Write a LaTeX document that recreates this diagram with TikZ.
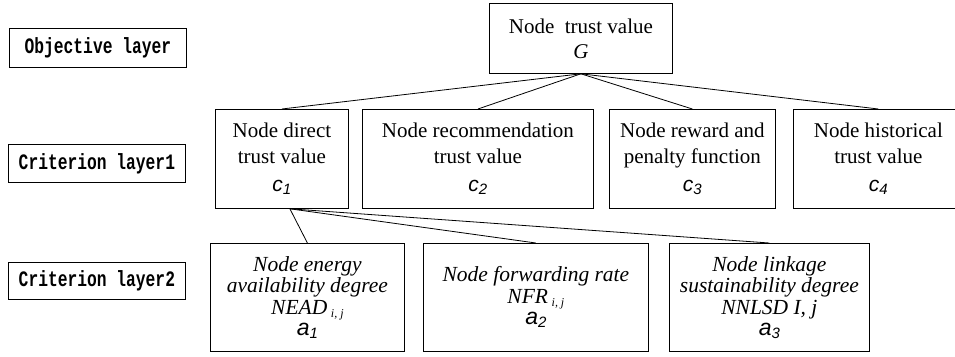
\documentclass[tikz,border=0pt]{standalone}
\usepackage{fontspec}
\usepackage{tikz}
\setmainfont{Liberation Serif}
\newfontfamily\symfont{Liberation Sans}
\newfontfamily\layerfont[FakeStretch=0.74]{Liberation Mono}
% small helpers for the symbols under each box
\newcommand{\csym}[1]{{\symfont\itshape\fontsize{21}{21}\selectfont c\raisebox{-3pt}{\fontsize{15}{15}\selectfont #1}}}
\newcommand{\asym}[1]{{\symfont\itshape\fontsize{23}{23}\selectfont a\raisebox{-3pt}{\fontsize{15}{15}\selectfont #1}}}
\newcommand{\idxij}{\,\raisebox{-3pt}{\fontsize{12}{12}\selectfont i, j}}

\begin{document}
\begin{tikzpicture}[
    x=1pt, y=-1pt,
    % every box hangs from its top left corner
    box/.style={
        draw,
        line width=0.8pt,
        anchor=north west,
        align=center,
        inner sep=0pt
    },
    layerbox/.style={
        box,
        minimum width=177pt,
        font=\layerfont\bfseries\fontsize{22}{22}\selectfont
    },
    critbox/.style={
        box,
        minimum height=99pt,
        font=\fontsize{21}{26}\selectfont
    },
    subbox/.style={
        box,
        minimum height=108pt,
        font=\itshape\fontsize{21.5}{21.5}\selectfont
    },
    link/.style={line width=0.8pt}
]
    \useasboundingbox (0,0) rectangle (955,356);

    % --- layer names on the left ---
    \node(lay-obj)[layerbox, minimum height=39pt] at (9,28) {Objective layer};
    \node(lay-c1)[layerbox, minimum height=38pt] at (8,144) {Criterion layer1};
    \node(lay-c2)[layerbox, minimum height=37pt] at (8,262) {Criterion layer2};

    % --- objective ---
    \node(goal)[box, minimum width=183pt, minimum height=70pt,
        font=\fontsize{21}{25}\selectfont] at (489,3)
        {Node\ \ trust value\\ \textit{G}};

    % --- criterion layer 1 ---
    \node(c1)[critbox, minimum width=133pt] at (215,109)
        {Node direct\\ trust value\\[2pt] \csym{1}};
    \node(c2)[critbox, minimum width=231pt] at (362,109)
        {Node recommendation\\ trust value\\[2pt] \csym{2}};
    \node(c3)[critbox, minimum width=166pt] at (609,109)
        {Node reward and\\ penalty function\\[2pt] \csym{3}};
    \node(c4)[critbox, minimum width=170pt] at (793,109)
        {Node historical\\ trust value\\[2pt] \csym{4}};

    % --- criterion layer 2 ---
    \node(a1)[subbox, minimum width=194pt] at (210,243)
        {Node energy\\ availability degree\\ NEAD\idxij\\ \asym{1}};
    \node(a2)[subbox, minimum width=225pt] at (423,243)
        {Node forwarding rate\\ NFR\idxij\\ \asym{2}};
    \node(a3)[subbox, minimum width=200pt] at (669,243)
        {Node linkage\\ sustainability degree\\ NNLSD I, j\\ \asym{3}};

    % --- connectors ---
    \foreach \i in {1,...,4}
        \draw[link] (goal.south) -- (c\i.north);

    \coordinate (c1-foot) at ([xshift=8pt]c1.south);
    \foreach \i in {1,2,3}
        \draw[link] (c1-foot) -- (a\i.north);
\end{tikzpicture}
\end{document}
